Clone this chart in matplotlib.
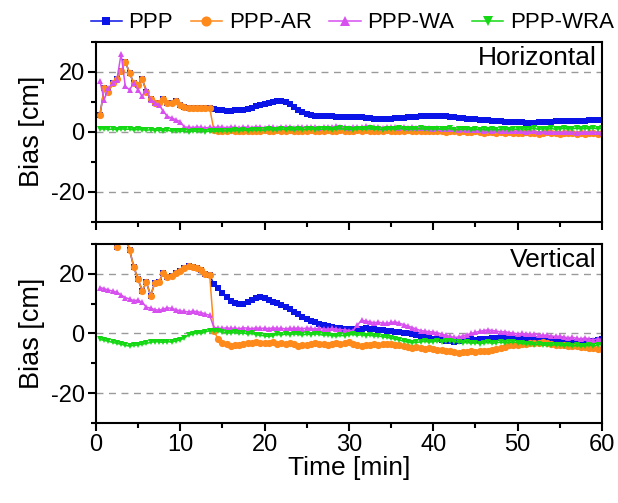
import numpy as np
import matplotlib
matplotlib.use("Agg")
import matplotlib.pyplot as plt
from matplotlib.ticker import MultipleLocator

plt.rcParams["font.family"] = ["Liberation Sans", "DejaVu Sans"]
plt.rcParams["axes.unicode_minus"] = False

# epochs every 30 s
time_min = np.arange(1, 121) * 0.5

# ---- Horizontal bias [cm] ----
ppp_h = [
    5.7, 14.6, 13.4, 16.2, 17.6, 20.1, 23.4, 19.6, 16.2, 15.7,
    17.6, 13.4, 10.9, 9.6, 9.6, 10.9, 9.6, 9.6, 10.4, 9.0,
    8.4, 7.9, 7.9, 7.8, 7.9, 7.8, 7.9, 7.6, 7.4, 7.2,
    7.0, 7.0, 7.2, 7.1, 7.3, 7.6, 8.0, 8.5, 9.0, 9.4,
    9.7, 9.9, 10.1, 10.2, 10.0, 9.3, 8.3, 7.2, 6.5, 6.0,
    5.6, 5.4, 5.3, 5.2, 5.1, 5.1, 5.0, 5.0, 5.0, 4.9,
    4.9, 5.0, 4.8, 4.7, 4.5, 4.3, 4.2, 4.2, 4.3, 4.4,
    4.5, 4.6, 4.7, 4.8, 4.9, 5.0, 5.1, 5.2, 5.2, 5.3,
    5.3, 5.2, 5.1, 5.0, 4.9, 4.7, 4.6, 4.4, 4.3, 4.1,
    4.0, 3.9, 3.8, 3.7, 3.6, 3.5, 3.4, 3.3, 3.3, 3.2,
    3.1, 3.0, 3.0, 3.0, 3.1, 3.2, 3.3, 3.4, 3.5, 3.5,
    3.6, 3.6, 3.6, 3.7, 3.7, 3.7, 3.8, 3.8, 3.8, 3.9,
]
# AR solution equals the float one until the ambiguities are fixed (~14 min)
ppp_ar_h = ppp_h[:27] + [
    0.6, 0.3, 0.4,
    0.3, 0.5, 0.2, 0.4, 0.3, 0.1, 0.4, 0.3, 0.2, 0.5,
    0.4, 0.3, 0.6, 0.4, 0.3, 0.5, 0.2, 0.4, 0.3, 0.4,
    0.5, 0.3, 0.4, 0.2, 0.5, 0.4, 0.3, 0.5, 0.4, 0.3,
    0.4, 0.6, 0.3, 0.5, 0.4, 0.2, 0.4, 0.3, 0.5, 0.3,
    0.4, 0.2, 0.3, 0.5, 0.3, 0.2, 0.4, 0.1, 0.3, 0.2,
    0.1, 0.3, 0.0, 0.2, 0.1, -0.1, 0.2, 0.0, -0.2, 0.1,
    -0.1, -0.3, 0.0, -0.2, -0.4, -0.1, -0.3, -0.2, -0.5, -0.3,
    -0.4, -0.2, -0.5, -0.3, -0.6, -0.4, -0.2, -0.5, -0.3, -0.6,
    -0.4, -0.5, -0.3, -0.6, -0.4, -0.7, -0.5, -0.4, -0.6, -0.5,
]
ppp_wa_h = [
    16.8, 10.7, 14.6, 16.2, 17.3, 26.0, 15.1, 14.0, 16.2, 14.0,
    11.8, 14.0, 10.7, 9.6, 9.0, 6.8, 5.1, 4.6, 4.0, 3.4,
    1.6, 1.5, 1.4, 1.6, 1.5, 1.3, 1.5, 1.4, 1.6, 1.5,
    1.4, 1.6, 1.5, 1.3, 1.6, 1.5, 1.4, 1.7, 1.5, 1.4,
    1.6, 1.5, 1.3, 1.6, 1.7, 1.5, 1.4, 1.6, 1.5, 1.7,
    1.5, 1.6, 1.4, 1.7, 1.5, 1.6, 1.8, 1.5, 1.6, 1.4,
    1.7, 1.5, 1.6, 1.8, 1.5, 1.7, 1.6, 1.4, 1.7, 1.5,
    1.6, 1.4, 1.5, 1.3, 1.5, 1.2, 1.4, 1.1, 1.3, 1.0,
    1.1, 0.9, 1.0, 0.8, 0.9, 0.7, 0.8, 0.6, 0.7, 0.5,
    0.6, 0.4, 0.5, 0.3, 0.5, 0.2, 0.4, 0.3, 0.1, 0.3,
    0.2, 0.0, 0.2, 0.1, -0.1, 0.1, 0.0, -0.2, 0.0, -0.1,
    -0.2, 0.0, -0.1, -0.3, -0.1, -0.2, 0.0, -0.2, -0.1, -0.3,
]
ppp_wra_h = [
    0.9, 1.0, 0.8, 0.9, 0.7, 1.0, 0.8, 0.9, 0.6, 0.8,
    0.7, 0.5, 0.7, 0.4, 0.6, 0.3, 0.5, 0.2, 0.4, 0.1,
    0.3, 0.0, 0.2, 0.1, 0.3, 0.0, 0.2, 0.1, 0.3, 0.2,
    0.4, 0.2, 0.5, 0.3, 0.6, 0.4, 0.5, 0.7, 0.5, 0.6,
    0.8, 0.6, 0.7, 0.9, 0.7, 0.8, 0.6, 0.9, 0.7, 0.8,
    1.0, 0.7, 0.9, 0.8, 1.0, 0.7, 0.9, 1.1, 0.8, 0.9,
    0.7, 1.0, 0.8, 0.9, 1.1, 0.8, 1.0, 0.7, 0.9, 1.0,
    0.8, 1.1, 0.9, 0.8, 1.0, 0.9, 1.1, 0.8, 1.0, 0.9,
    1.0, 0.8, 0.9, 1.1, 0.7, 0.9, 0.8, 1.0, 0.6, 0.9,
    0.7, 0.8, 0.6, 0.9, 0.7, 0.8, 1.0, 0.7, 0.9, 0.8,
    1.0, 0.8, 0.9, 1.1, 0.8, 1.0, 0.9, 1.1, 0.8, 1.0,
    1.1, 0.9, 1.0, 1.2, 0.9, 1.1, 1.0, 1.2, 1.0, 1.1,
]

# ---- Vertical bias [cm] ----
ppp_v = [
    45.0, 40.0, 36.0, 32.0, 29.1, 31.5, 33.0, 28.0, 22.4, 18.2,
    14.4, 17.1, 12.7, 17.0, 17.2, 20.4, 18.9, 19.3, 20.4, 21.1,
    21.9, 22.7, 22.2, 21.9, 21.3, 19.9, 19.6, 16.5, 15.2, 13.5,
    12.2, 10.8, 10.2, 10.0, 9.9, 10.4, 11.2, 12.0, 12.3, 12.0,
    11.2, 10.7, 10.2, 9.5, 8.8, 8.2, 7.3, 6.4, 5.6, 4.9,
    4.2, 3.8, 3.3, 2.8, 2.5, 2.1, 1.9, 1.7, 1.6, 1.6,
    1.4, 1.2, 1.5, 1.7, 1.6, 1.4, 1.2, 1.1, 1.0, 0.8,
    0.6, 0.4, 0.2, 0.0, -0.3, -0.5, -0.8, -1.1, -1.4, -1.7,
    -2.0, -2.2, -2.5, -2.6, -2.7, -2.5, -2.3, -2.2, -2.0, -2.1,
    -2.0, -1.8, -1.7, -1.5, -1.4, -1.3, -1.4, -1.5, -1.4, -1.4,
    -1.5, -1.6, -1.7, -1.8, -1.7, -1.6, -1.8, -1.9, -2.1, -2.3,
    -2.4, -2.6, -2.8, -2.9, -3.0, -2.9, -2.7, -2.5, -2.3, -2.0,
]
ppp_ar_v = ppp_v[:27] + [
    1.0, -2.0, -3.1,
    -3.5, -4.2, -4.0, -3.7, -3.4, -3.1, -3.3, -3.0, -3.2, -3.1,
    -3.3, -3.0, -3.4, -3.2, -3.5, -3.3, -3.6, -4.2, -3.9, -3.7,
    -3.5, -3.3, -3.6, -3.4, -3.7, -3.5, -3.3, -3.6, -3.2, -3.0,
    -3.4, -3.8, -4.2, -4.0, -3.8, -3.5, -3.7, -3.4, -3.6, -3.5,
    -3.8, -4.0, -4.3, -4.5, -4.8, -4.6, -5.0, -5.2, -5.0, -5.3,
    -5.4, -5.6, -5.8, -6.0, -6.2, -6.4, -6.1, -6.3, -6.0, -6.2,
    -5.9, -6.0, -5.7, -5.5, -5.2, -4.8, -4.4, -4.0, -3.8, -3.7,
    -3.5, -3.4, -3.2, -3.3, -3.1, -3.0, -3.3, -3.5, -3.7, -3.9,
    -4.0, -4.2, -4.1, -4.3, -4.5, -4.4, -4.7, -5.0, -5.2, -5.3,
]
ppp_wa_v = [
    15.4, 15.0, 14.6, 14.2, 13.8, 12.9, 12.0, 11.6, 11.0, 11.2,
    10.4, 8.8, 8.5, 8.0, 7.8, 8.2, 8.6, 8.4, 8.0, 7.6,
    7.4, 7.2, 7.5, 7.3, 7.0, 6.5, 6.1, 2.0, 1.8, 1.7,
    1.9, 1.7, 1.8, 1.6, 1.9, 1.8, 1.6, 1.9, 1.7, 1.8,
    1.6, 1.9, 1.7, 1.8, 1.5, 1.8, 1.7, 1.9, 1.6, 1.8,
    1.7, 1.5, 1.8, 1.6, 1.4, 1.7, 1.5, 1.3, 1.2, 1.0,
    1.0, 2.8, 4.4, 4.2, 3.9, 3.6, 3.8, 3.5, 3.4, 3.7,
    3.9, 3.4, 3.0, 2.5, 2.0, 1.5, 1.0, 0.8, 0.6, 0.5,
    0.2, -0.2, -0.6, -1.0, -1.3, -1.2, -0.8, -0.4, 0.0, 0.4,
    0.7, 1.0, 1.2, 1.0, 0.8, 0.5, 0.6, 0.3, 0.1, -0.1,
    0.0, -0.2, -0.3, -0.1, -0.4, -0.6, -0.5, -0.8, -1.0, -0.9,
    -1.2, -1.4, -1.3, -1.6, -1.8, -1.5, -1.9, -2.1, -1.8, -2.0,
]
ppp_wra_v = [
    -2.0, -2.3, -2.6, -3.0, -3.3, -3.6, -4.0, -4.2, -4.0, -3.8,
    -3.6, -3.3, -3.0, -2.7, -2.8, -3.0, -2.7, -2.9, -2.5, -2.2,
    -1.5, -0.5, -0.2, 0.3, 0.1, 0.6, 0.9, 1.0, 0.7, 0.5,
    0.3, 0.1, 0.4, 0.0, 0.2, -0.2, 0.1, -0.4, -0.6, -0.8,
    -1.0, -0.7, -0.3, -0.5, -0.2, -0.4, -0.1, -0.3, -0.5, -0.2,
    -0.4, -0.1, -0.3, -0.6, -0.4, -0.7, -0.9, -0.6, -0.8, -0.4,
    -0.3, -0.6, -0.4, -0.7, -0.5, -0.9, -0.8, -1.1, -1.3, -1.6,
    -1.9, -2.2, -2.6, -2.9, -3.1, -3.0, -2.8, -2.6, -2.9, -2.7,
    -2.5, -2.8, -2.6, -2.4, -2.7, -2.9, -3.1, -3.0, -3.3, -3.1,
    -3.4, -3.2, -3.0, -3.3, -3.1, -2.9, -3.2, -3.0, -2.8, -3.1,
    -3.3, -3.5, -3.4, -3.7, -3.6, -3.9, -3.8, -4.0, -3.7, -3.9,
    -4.1, -3.9, -4.2, -4.0, -4.3, -4.1, -3.9, -4.2, -3.8, -3.7,
]

series_names = ["PPP", "PPP-AR", "PPP-WA", "PPP-WRA"]
series_colors = ["#0a14e6", "#ff8a1c", "#d84ff0", "#14d814"]
series_markers = ["s", "o", "^", "v"]
series_msize = [4.2, 5.2, 4.8, 4.8]

panels = [
    ("Horizontal", [ppp_h, ppp_ar_h, ppp_wa_h, ppp_wra_h]),
    ("Vertical", [ppp_v, ppp_ar_v, ppp_wa_v, ppp_wra_v]),
]

fig = plt.figure(figsize=(6.18, 5.03), dpi=100)
ax_top = fig.add_axes([0.155, 0.559, 0.819, 0.358])
ax_bot = fig.add_axes([0.155, 0.159, 0.819, 0.356], sharex=ax_top)

for ax, (title, data) in zip((ax_top, ax_bot), panels):
    for values, name, color, marker, ms in zip(data, series_names, series_colors,
                                               series_markers, series_msize):
        ax.plot(time_min, values, color=color, marker=marker, markersize=ms,
                markeredgewidth=0, linewidth=1.1, label=name)
    ax.set_xlim(0, 60)
    ax.set_ylim(-30, 30)
    ax.xaxis.set_major_locator(MultipleLocator(10))
    ax.xaxis.set_minor_locator(MultipleLocator(5))
    ax.yaxis.set_major_locator(MultipleLocator(20))
    ax.yaxis.set_minor_locator(MultipleLocator(10))
    ax.grid(True, axis="y", which="major", color="#9a9a9a", linestyle=(0, (5, 4)), linewidth=1.0)
    ax.tick_params(which="major", direction="out", length=6, width=1.5, labelsize=17, pad=2)
    ax.tick_params(which="minor", direction="out", length=3.5, width=1.5)
    for spine in ax.spines.values():
        spine.set_linewidth(1.5)
    ax.set_ylabel("Bias [cm]", fontsize=19.5, labelpad=4)
    ax.text(0.99, 0.975, title, transform=ax.transAxes, ha="right", va="top", fontsize=19)

plt.setp(ax_top.get_xticklabels(), visible=False)
ax_bot.set_xlabel("Time [min]", fontsize=19, labelpad=0)
fig.align_ylabels([ax_top, ax_bot])

handles, labels = ax_top.get_legend_handles_labels()
fig.legend(handles, labels, loc="upper center", bbox_to_anchor=(0.57, 1.015), ncol=4,
           frameon=False, fontsize=16, handlelength=1.4, handletextpad=0.3,
           columnspacing=0.8, markerscale=1.4)

fig.savefig("out.png", dpi=100)
